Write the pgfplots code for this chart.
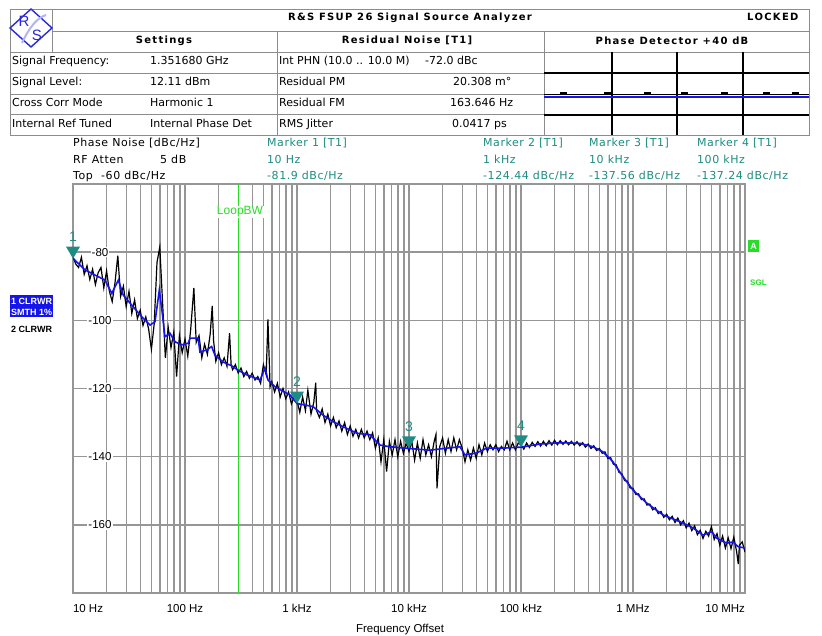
\documentclass[border=0pt]{standalone}
\usepackage{pgfplots}
\pgfplotsset{compat=1.18}
\usepackage{pgfplotstable}
\usepackage{fontspec}
\setmainfont{Liberation Sans}
\newfontfamily\dv{DejaVu Sans}
\newfontfamily\dvls[LetterSpace=5]{DejaVu Sans}
\newfontfamily\hdr[LetterSpace=13]{DejaVu Sans}

\definecolor{gridgray}{RGB}{150,150,150}
\definecolor{tblgray}{RGB}{140,140,140}
\definecolor{mkteal}{RGB}{30,140,130}
\definecolor{trblue}{RGB}{20,20,235}
\definecolor{lbwgreen}{RGB}{40,220,40}
\definecolor{logoblue}{RGB}{40,40,220}

\newcommand\tf{\dv\fontsize{11}{13}\selectfont}
\newcommand\hf{\hdr\bfseries\fontsize{10}{12}\selectfont}
\newcommand\infofont{\dvls\fontsize{11}{13}\selectfont}
\newcommand\axfont{\fontsize{11.5}{13}\selectfont}
\newcommand\mkfont{\fontsize{14}{16}\selectfont}

% marker: downward triangle, tip on the trace, number above
\newcommand\defmk[1]{%
  \pgfdeclareplotmark{mk#1}{%
    \pgfpathmoveto{\pgfpointorigin}%
    \pgfpathlineto{\pgfpoint{-7pt}{12pt}}%
    \pgfpathlineto{\pgfpoint{7pt}{12pt}}%
    \pgfpathclose\pgfusepathqfill
    \pgftext[at={\pgfpoint{0pt}{22pt}}]{\color{mkteal}\mkfont #1}}}
\defmk{1}\defmk{2}\defmk{3}\defmk{4}

% trace 2, clear write (raw)
\pgfplotstableread{
f db
10 -81.5
10.59 -83.5
11.22 -84.5
11.89 -81.5
12.59 -86.5
13.34 -84.0
14.13 -88.0
14.96 -85.0
15.85 -89.5
16.79 -86.0
17.78 -84.5
18.84 -90.5
19.95 -85.5
21.13 -91.5
22.39 -94.5
23.71 -89.0
25.12 -81.0
26.61 -93.0
28.18 -90.0
29.85 -96.0
31.62 -91.5
33.50 -98.0
35.48 -94.0
37.58 -99.5
39.81 -97.0
42.17 -101.5
44.67 -99.0
47.32 -102.5
50.12 -108.5
53.09 -101.0
56.23 -83.0
59.57 -78.5
63.10 -95.0
66.83 -111.0
70.79 -102.0
74.99 -108.0
79.43 -103.5
84.14 -116.5
89.13 -104.5
94.41 -109.5
100 -105.5
105.9 -110.5
112.2 -103.0
120 -90.5
125.9 -106.5
133.4 -104.5
141.3 -111.0
149.6 -107.0
158.5 -110.0
167.9 -104.0
175 -95.8
180 -106.0
188.4 -112.0
199.5 -109.5
211.3 -113.0
223.9 -111.0
237.1 -113.5
250 -103.8
258 -113.0
266.1 -114.5
281.8 -113.0
298.5 -115.5
316.2 -114.0
335.0 -116.5
354.8 -115.0
375.8 -117.0
398.1 -115.5
421.7 -117.5
446.7 -116.5
473.2 -118.5
501.2 -113.0
530.9 -116.0
550 -99.7
575 -119.5
595.7 -118.0
631.0 -121.0
668.3 -118.5
707.9 -122.5
749.9 -120.0
794.3 -123.0
841.4 -121.0
891.3 -124.5
944.1 -122.5
1000 -123.5
1059 -127.0
1122 -122.5
1189 -126.5
1250 -120.5
1334 -127.5
1413 -124.0
1470 -118.3
1496 -126.5
1585 -128.5
1679 -126.0
1778 -130.0
1884 -127.5
1995 -131.0
2113 -128.5
2239 -131.5
2371 -129.5
2512 -132.5
2661 -130.0
2818 -133.5
2985 -131.0
3162 -134.0
3350 -132.0
3548 -134.5
3758 -132.0
3981 -134.5
4217 -132.5
4467 -135.0
4732 -133.0
5012 -137.5
5309 -134.5
5623 -141.5
5957 -135.0
6310 -144.4
6683 -135.5
7079 -139.5
7499 -135.0
7943 -140.0
8414 -135.5
8913 -139.0
9441 -136.0
10000 -138.5
10590 -135.5
11220 -141.0
11890 -136.0
12590 -140.5
13340 -135.0
14130 -139.5
14960 -136.5
15850 -140.0
16790 -135.5
17400 -133.5
17780 -149.3
18840 -137.0
19950 -134.5
21130 -139.0
22390 -135.0
23710 -138.5
25120 -134.5
26610 -138.0
28180 -135.0
29850 -137.5
31620 -141.5
33500 -138.0
35480 -141.0
37580 -137.5
39810 -140.5
42170 -136.5
44670 -139.5
47320 -136.0
50120 -138.5
53090 -136.5
56230 -138.0
59570 -136.5
63100 -138.5
66830 -137.0
70790 -138.0
74990 -135.5
79430 -138.0
84140 -136.0
89130 -138.0
94410 -136.0
100000 -136.5
105900 -137.8
112200 -136.0
118900 -137.3
125900 -135.8
133400 -137.0
141300 -135.6
149600 -136.9
158500 -135.5
167900 -136.8
177800 -135.3
188400 -136.6
199500 -135.2
211300 -136.5
223900 -135.3
237100 -136.4
251200 -135.4
266100 -136.5
281800 -135.5
298500 -136.6
316200 -135.6
335000 -136.8
354800 -135.9
375800 -137.2
398100 -136.3
421700 -137.6
446700 -136.8
473200 -138.2
501200 -137.6
530900 -139.0
562300 -138.6
595700 -140.5
631000 -140.3
668300 -142.2
707900 -142.4
749900 -144.6
794300 -145.0
841400 -147.0
891300 -147.2
944100 -149.2
1000000 -149.3
1059000 -151.1
1122000 -150.9
1189000 -152.6
1259000 -152.4
1334000 -154.2
1413000 -153.9
1496000 -155.6
1585000 -155.0
1679000 -156.7
1778000 -156.1
1884000 -157.8
1995000 -156.9
2113000 -158.5
2239000 -157.5
2371000 -159.3
2512000 -158.0
2661000 -160.0
2818000 -158.8
2985000 -160.9
3162000 -159.5
3350000 -161.7
3548000 -160.3
3758000 -162.9
3981000 -161.6
4217000 -164.0
4467000 -161.9
4732000 -163.3
5012000 -160.5
5309000 -164.3
5623000 -162.6
5957000 -166.0
6310000 -163.3
6683000 -166.8
7079000 -163.8
7499000 -167.0
7943000 -163.6
8414000 -167.8
8710000 -171.5
8913000 -166.0
9441000 -165.0
10000000 -168.0
}\rawtrace

% trace 1, smoothed 1%
\pgfplotstableread{
f db
10 -81.8
12.8 -85.2
15.7 -86.7
19.3 -88.2
22.2 -92.1
25.4 -88.2
28.1 -92.6
33.4 -95.5
41.0 -98.9
48.7 -101.4
54.0 -100.4
59.0 -91.1
62.7 -97.9
66.2 -104.8
73.4 -103.8
81.5 -106.3
93.4 -107.2
107 -106.7
111 -105.2
131 -105.2
136 -109.3
156 -108.7
173 -107.7
185 -110.2
218 -112.2
263 -113.4
297 -114.6
356 -116.0
468 -117.5
518 -114.0
551 -117.5
637 -119.5
866 -121.9
1000 -124.4
1390 -125.3
1706 -127.8
2094 -129.7
2576 -131.2
3412 -133.1
4487 -133.6
5508 -136.6
6761 -137.1
10000 -137.6
15400 -138.1
21710 -137.5
28510 -137.1
31620 -139.5
40180 -138.9
49430 -137.5
69020 -137.5
100000 -137.2
147900 -136.3
222800 -135.9
336500 -136.1
439500 -137.1
539500 -138.6
662200 -141.5
814700 -145.9
1000000 -149.8
1324000 -153.6
1854000 -157.1
2630000 -159.1
3436000 -160.9
4217000 -163.0
5047000 -162.0
5585000 -163.9
6871000 -165.4
7816000 -165.0
8670000 -166.4
10000000 -166.8
}\smoothtrace

\begin{document}
\begin{tikzpicture}
\fill[white, use as bounding box] (0,0) rectangle (822pt,635pt);

\begin{axis}[
  at={(73pt,42pt)}, anchor=south west,
  scale only axis, width=672pt, height=409pt,
  xmode=log, xmin=10, xmax=1e7, ymin=-180, ymax=-60,
  xtick={10,100,1000,10000,100000,1000000,10000000},
  xticklabels={\makebox[0pt][l]{10 Hz},100 Hz,1 kHz,10 kHz,100 kHz,1 MHz,\makebox[0pt][r]{10 MHz}},
  minor xtick={20,30,40,50,60,70,80,90,200,300,400,500,600,700,800,900,
    2000,3000,4000,5000,6000,7000,8000,9000,20000,30000,40000,50000,60000,70000,80000,90000,
    200000,300000,400000,500000,600000,700000,800000,900000,
    2000000,3000000,4000000,5000000,6000000,7000000,8000000,9000000},
  ytick={-160,-140,-120,-100,-80},
  yticklabels={-160,-140,-120,-100,-80},
  xmajorgrids, xminorgrids, ymajorgrids,
  major grid style={draw=gridgray, line width=1.5pt},
  minor grid style={draw=gridgray, line width=1.5pt},
  axis line style={draw=gridgray, line width=1.5pt},
  major tick length=0pt, minor tick length=0pt,
  tick label style={font=\axfont},
  xticklabel style={yshift=-8pt},
  yticklabel style={anchor=center, xshift=27pt, fill=white, inner sep=1pt},
  clip mode=individual,
]
\addplot[lbwgreen, line width=1.2pt] coordinates {(300,-180) (300,-60)};
\addplot[black, line width=1.2pt] table[x=f, y=db] {\rawtrace};
\addplot[trblue, line width=1.6pt] table[x=f, y=db] {\smoothtrace};
\addplot[mkteal, only marks, mark=mk1] coordinates {(10,-81.9)};
\addplot[mkteal, only marks, mark=mk2] coordinates {(1000,-124.44)};
\addplot[mkteal, only marks, mark=mk3] coordinates {(10000,-137.56)};
\addplot[mkteal, only marks, mark=mk4] coordinates {(100000,-137.24)};
\end{axis}

\begin{scope}[shift={(0pt,635pt)}, x=1pt, y=-1pt]
  % header table
  \draw[tblgray, line width=0.8pt] (10,9) rectangle (809,135);
  \draw[tblgray, line width=0.8pt] (52,9) -- (52,52);
  \draw[tblgray, line width=0.8pt] (52,31) -- (809,31);
  \draw[tblgray, line width=0.8pt] (10,52) -- (809,52);
  \foreach \yy in {73,94,114} \draw[tblgray, line width=0.8pt] (10,\yy) -- (544,\yy);
  \draw[tblgray, line width=0.8pt] (277,31) -- (277,135);
  \draw[tblgray, line width=0.8pt] (544,31) -- (544,135);
  % phase detector display
  \foreach \yy in {73,115} \draw[black, line width=1.2pt] (544,\yy) -- (809,\yy);
  \foreach \xx in {612,677,743} \draw[black, line width=1.3pt] (\xx,52) -- (\xx,135);
  \draw[black, line width=0.8pt] (544,94) -- (809,94);
  \foreach \xx in {560,604,644,681,721,763,792} \draw[black, line width=1.6pt] (\xx,93) -- (\xx+7,93);
  \draw[trblue, line width=1.2pt] (544,97) -- (809,97);
  % logo
  \draw[logoblue, line width=1.4pt] (10,28) -- (31,9) -- (52,28) -- (31,47) -- cycle;
  \draw[logoblue!35, line width=2pt] (22,43) .. controls (28,30) and (36,18) .. (46,15);
  \node[logoblue, font=\fontsize{15}{15}\selectfont] at (24,21) {R};
  \node[logoblue, font=\fontsize{15}{15}\selectfont] at (37,35) {S};
  % header text
  \node[anchor=base] at (410,21) {\hf R\&S FSUP 26 Signal Source Analyzer};
  \node[anchor=base east] at (802,21) {\hf LOCKED};
  \node[anchor=base] at (164,44) {\hf Settings};
  \node[anchor=base] at (407,44) {\hf Residual Noise [T1]};
  \node[anchor=base] at (672,45) {\hf Phase Detector +40 dB};
  \begin{scope}[every node/.style={anchor=base west, inner sep=0pt, font=\tf}]
    \node at (12,65) {Signal Frequency:};
    \node at (150,65) {1.351680 GHz};
    \node at (279,65) {Int PHN (10.0 .. 10.0 M)};
    \node at (425,65) {-72.0 dBc};
    \node at (12,86) {Signal Level:};
    \node at (150,86) {12.11 dBm};
    \node at (279,86) {Residual PM};
    \node at (453,86) {20.308 m°};
    \node at (12,107) {Cross Corr Mode};
    \node at (150,107) {Harmonic 1};
    \node at (279,107) {Residual FM};
    \node at (450,107) {163.646 Hz};
    \node at (12,128) {Internal Ref Tuned};
    \node at (150,128) {Internal Phase Det};
    \node at (279,128) {RMS Jitter};
    \node at (452,128) {0.0417 ps};
  \end{scope}
  % info block above the grid
  \begin{scope}[every node/.style={anchor=base west, inner sep=0pt, font=\infofont}]
    \node at (73,147) {Phase Noise [dBc/Hz]};
    \node at (73,164) {RF Atten};
    \node at (160,164) {5 dB};
    \node at (73,180) {Top};
    \node at (101,180) {-60 dBc/Hz};
    \node[mkteal] at (267,147) {Marker 1 [T1]};
    \node[mkteal] at (267,164) {10 Hz};
    \node[mkteal] at (267,180) {-81.9 dBc/Hz};
    \node[mkteal] at (483,147) {Marker 2 [T1]};
    \node[mkteal] at (483,164) {1 kHz};
    \node[mkteal] at (483,180) {-124.44 dBc/Hz};
    \node[mkteal] at (589,147) {Marker 3 [T1]};
    \node[mkteal] at (589,164) {10 kHz};
    \node[mkteal] at (589,180) {-137.56 dBc/Hz};
    \node[mkteal] at (697,147) {Marker 4 [T1]};
    \node[mkteal] at (697,164) {100 kHz};
    \node[mkteal] at (697,180) {-137.24 dBc/Hz};
  \end{scope}
  % loop bandwidth label
  \node[lbwgreen, fill=white, inner sep=1pt, anchor=base, font=\fontsize{12}{14}\selectfont] at (240,215) {LoopBW};
  % trace labels
  \fill[trblue] (10,295) rectangle (53,317);
  \node[white, anchor=base west, inner sep=0pt, font=\bfseries\fontsize{9}{11}\selectfont] at (11,305) {1 CLRWR};
  \node[white, anchor=base west, inner sep=0pt, font=\bfseries\fontsize{9}{11}\selectfont] at (11,315.5) {SMTH 1\%};
  \node[black, anchor=base west, inner sep=0pt, font=\bfseries\fontsize{9}{11}\selectfont] at (11,333) {2 CLRWR};
  \fill[lbwgreen] (748,240) rectangle (759,252);
  \node[white, font=\bfseries\fontsize{9}{10}\selectfont] at (753.5,246) {A};
  \node[lbwgreen, anchor=base west, inner sep=0pt, font=\bfseries\fontsize{8}{9}\selectfont] at (750,286) {SGL};
  % axis title
  \node[anchor=base, font=\axfont] at (400,632) {Frequency Offset};
\end{scope}
\end{tikzpicture}
\end{document}
